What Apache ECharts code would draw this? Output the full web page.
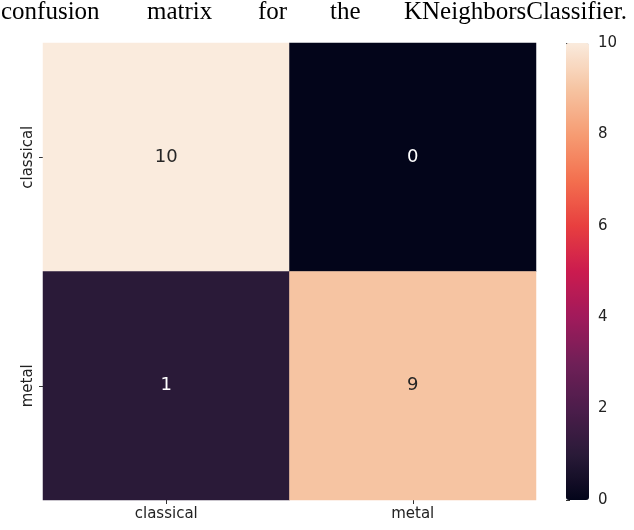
<!DOCTYPE html>
<html>
<head>
<meta charset="utf-8">
<script src="https://cdn.jsdelivr.net/npm/echarts@6/dist/echarts.min.js"></script>
<style>
  html, body { margin: 0; padding: 0; background: #fff; }
  #box { width: 634px; height: 530px; }
</style>
</head>
<body>
<div id="box"></div>
<script>
// class names and confusion matrix (rows = true, cols = predicted)
let classes = ['classical', 'metal'];
let matrix = [
    [10, 0],
    [1, 9]
];
let titleWords = ['confusion', 'matrix', 'for', 'the', 'KNeighborsClassifier.'];
let barTicks = [0, 2, 4, 6, 8, 10];

// rocket colormap stops
let rocket = ['#03051a', '#2a1a38', '#4c1d4b', '#701f57', '#a11a5b', '#cb1b4f',
    '#e83f3f', '#f3704f', '#f69c73', '#f6c4a2', '#faebdd'];

window.addEventListener('load', function () {
    let box = document.getElementById('box');
    let mychart = echarts.init(box);

    let data = [];
    for (let r = 0; r < matrix.length; r++) {
        for (let c = 0; c < matrix[r].length; c++) {
            data.push([c, r, matrix[r][c]]);
        }
    }

    // justified title words
    let wordX = [1, 147, 258, 330, 404];
    let graphics = titleWords.map(function (w, i) {
        return {
            type: 'text', left: wordX[i], top: 0,
            style: { text: w, font: '25px "Liberation Serif"', fill: '#000' }
        };
    });

    let options = {
        backgroundColor: '#fff',
        animation: false,
        graphic: graphics,
        grid: [
            { left: 43, top: 43, width: 493, height: 457 },
            { left: 566, top: 43, width: 23, height: 457 }
        ],
        xAxis: [
            {
                type: 'category', data: classes, gridIndex: 0,
                axisLine: { show: false },
                axisTick: { show: true, length: 4, alignWithLabel: true, lineStyle: { color: '#333' } },
                axisLabel: { fontSize: 15, color: '#222', fontFamily: 'DejaVu Sans', margin: 7 },
                splitLine: { show: false }
            },
            { type: 'value', gridIndex: 1, show: false, min: 0, max: 1 }
        ],
        yAxis: [
            {
                type: 'category', data: classes, gridIndex: 0, inverse: true,
                axisLine: { show: false },
                axisTick: { show: true, length: 4, alignWithLabel: true, lineStyle: { color: '#333' } },
                axisLabel: { fontSize: 15, color: '#222', fontFamily: 'DejaVu Sans', rotate: 90, margin: 7 },
                splitLine: { show: false }
            },
            {
                type: 'value', gridIndex: 1, position: 'right', min: 0, max: 10, interval: 2,
                axisLine: { show: false },
                axisTick: { show: true, length: 4, lineStyle: { color: '#333' } },
                axisLabel: { fontSize: 15, color: '#222', fontFamily: 'DejaVu Sans', margin: 9,
                    formatter: function (v) { return barTicks.indexOf(v) >= 0 ? String(v) : ''; } },
                splitLine: { show: false }
            }
        ],
        visualMap: {
            type: 'continuous',
            min: 0, max: 10,
            calculable: false,
            orient: 'vertical',
            left: 566, top: 43,
            itemWidth: 23, itemHeight: 457,
            padding: 0,
            text: null,
            showLabel: false,
            seriesIndex: 0,
            inRange: { color: rocket }
        },
        series: [
            {
                type: 'heatmap',
                xAxisIndex: 0, yAxisIndex: 0,
                data: data,
                label: {
                    show: true,
                    fontSize: 18,
                    fontFamily: 'DejaVu Sans',
                    formatter: function (p) { return String(p.value[2]); },
                    color: '#262626'
                },
                itemStyle: { borderWidth: 0 }
            }
        ]
    };

    // white labels on dark cells
    options.series[0].data = data.map(function (d) {
        return { value: d, label: { color: d[2] < 5 ? '#ffffff' : '#262626' } };
    });

    mychart.setOption(options);
});
</script>
</body>
</html>
